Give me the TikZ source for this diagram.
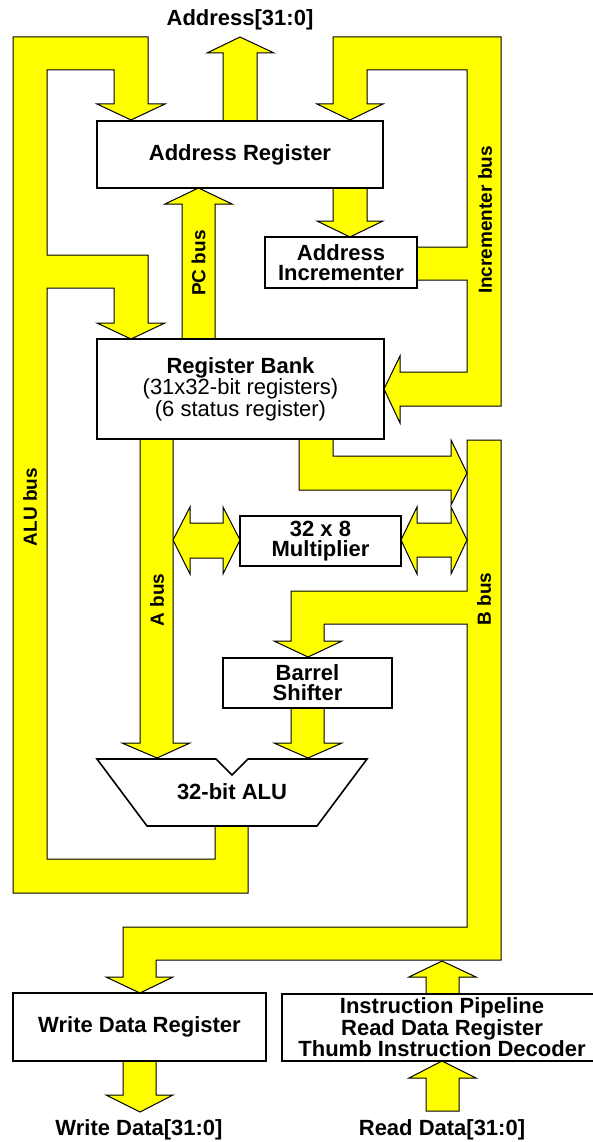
\documentclass[tikz,border=0pt]{standalone}
\usepackage{fontspec}
\setmainfont{Liberation Sans}
\definecolor{busyellow}{RGB}{255,255,0}
\tikzset{
  bus/.style={fill=busyellow, draw=black, line width=1pt, line join=miter},
  blk/.style={draw, fill=white, line width=1.6pt, inner sep=0pt, align=center,
    font=\bfseries\fontsize{22}{20}\selectfont},
  buslabel/.style={rotate=90, inner sep=0pt, font=\bfseries\fontsize{19}{19}\selectfont},
  pinlabel/.style={inner sep=0pt, font=\bfseries\fontsize{22}{22}\selectfont},
}

\begin{document}
\begin{tikzpicture}[x=1pt, y=-1pt]
        \useasboundingbox (0,0) rectangle (592,1142);

        % ALU bus
        \draw[bus] (248,826) -- (248,893) -- (13,893) -- (13,37) -- (148,37) -- (148,104)
          -- (165,104) -- (131,120) -- (97,104) -- (114,104) -- (114,70) -- (47,70)
          -- (47,255) -- (148,255) -- (148,323) -- (165,323) -- (131,339) -- (97,323)
          -- (114,323) -- (114,288) -- (47,288) -- (47,859) -- (215,859) -- (215,826) -- cycle;

        % Incrementer bus
        \draw[bus] (417,247) -- (467,247) -- (467,70) -- (367,70) -- (367,104) -- (383,104)
          -- (350,120) -- (317,104) -- (333,104) -- (333,37) -- (501,37) -- (501,406)
          -- (400,406) -- (400,423) -- (384,389) -- (400,356) -- (400,372) -- (467,372)
          -- (467,280) -- (417,280) -- cycle;

        % Address[31:0]
        \draw[bus] (223,121) -- (223,53) -- (207,53) -- (240,37) -- (274,53) -- (257,53) -- (257,121) -- cycle;

        % PC bus
        \draw[bus] (182,339) -- (182,204) -- (165,204) -- (198.5,188) -- (232,204) -- (215,204) -- (215,339) -- cycle;

        % 地址寄存器 -> 地址增量器
        \draw[bus] (333,188) -- (333,221) -- (317,221) -- (350,237) -- (383,221) -- (367,221) -- (367,188) -- cycle;

        % B bus
        \draw[bus] (467,440) -- (501,440) -- (501,960) -- (156,960) -- (156,977) -- (173,977)
          -- (140,993) -- (106,977) -- (123,977) -- (123,927) -- (467,927) -- (467,624)
          -- (324,624) -- (324,641) -- (342,641) -- (308,657) -- (274,641) -- (291,641)
          -- (291,591) -- (467,591) -- cycle;

        % 寄存器组 -> B bus
        \draw[bus] (299,439) -- (299,490) -- (451,490) -- (451,505) -- (467,473) -- (451,440)
          -- (451,456) -- (333,456) -- (333,439) -- cycle;

        % 乘法器两侧
        \draw[bus] (173,540) -- (190,507) -- (190,523) -- (223,523) -- (223,507) -- (240,540)
          -- (223,574) -- (223,558) -- (190,558) -- (190,574) -- cycle;
        \draw[bus] (401,540) -- (417,507) -- (417,523) -- (451,523) -- (451,507) -- (467,540)
          -- (451,574) -- (451,557) -- (417,557) -- (417,574) -- cycle;

        % A bus, 移位器 -> ALU
        \draw[bus] (140,439) -- (140,743) -- (122,743) -- (157,758) -- (190,743) -- (173,743) -- (173,439) -- cycle;
        \draw[bus] (291,708) -- (291,743) -- (274,743) -- (308,758) -- (342,743) -- (324,743) -- (324,708) -- cycle;

        % 数据输入输出
        \draw[bus] (123,1061) -- (123,1095) -- (106,1095) -- (140,1112) -- (173,1095) -- (156,1095) -- (156,1061) -- cycle;
        \draw[bus] (426,994) -- (426,977) -- (409,977) -- (442,961) -- (476,977) -- (459,977) -- (459,994) -- cycle;
        \draw[bus] (426,1111) -- (426,1078) -- (409,1078) -- (442,1061) -- (476,1078) -- (459,1078) -- (459,1111) -- cycle;

        % 方框
        \node[blk, minimum width=286pt, minimum height=67pt] (addrreg) at (240,154.5) {Address Register};
        \node[blk, minimum width=152pt, minimum height=51pt] (incr) at (341,262.5) {Address\\Incrementer};
        \node[blk, minimum width=287pt, minimum height=100pt] (regbank) at (240.5,389)
          {Register Bank\\\mdseries(31x32-bit registers)\\\mdseries(6 status register)};
        \node[blk, minimum width=161pt, minimum height=50pt] (mult) at (320.5,541) {32 x 8\\Multiplier};
        \node[blk, minimum width=169pt, minimum height=50pt] (barrel) at (307.5,683) {Barrel\\Shifter};
        \node[blk, minimum width=253pt, minimum height=68pt] (wdr) at (139.5,1027) {Write Data Register};
        \node[blk, minimum width=320pt, minimum height=67pt] (pipe) at (442,1027.5)
          {Instruction Pipeline\\Read Data Register\\Thumb Instruction Decoder};

        % ALU
        \draw[line width=1.6pt, fill=white, line join=miter] (97,759) -- (216,759) -- (232,775) -- (248,759)
          -- (367,759) -- (317,826) -- (147,826) -- cycle;
        \node[pinlabel] (alu) at (232,792) {32-bit ALU};

        % 总线标注
        \node[buslabel] (alubus) at (30,507) {ALU bus};
        \node[buslabel] (pcbus) at (198.5,263) {PC bus};
        \node[buslabel] (incbus) at (485,220) {Incrementer bus};
        \node[buslabel] (abus) at (157,600) {A bus};
        \node[buslabel] (bbus) at (484,599) {B bus};

        % 引脚标注
        \node[pinlabel] (addr) at (240,20) {Address[31:0]};
        \node[pinlabel] (wdata) at (139,1130) {Write Data[31:0]};
        \node[pinlabel] (rdata) at (442,1130) {Read Data[31:0]};
        \end{tikzpicture}
\end{document}
